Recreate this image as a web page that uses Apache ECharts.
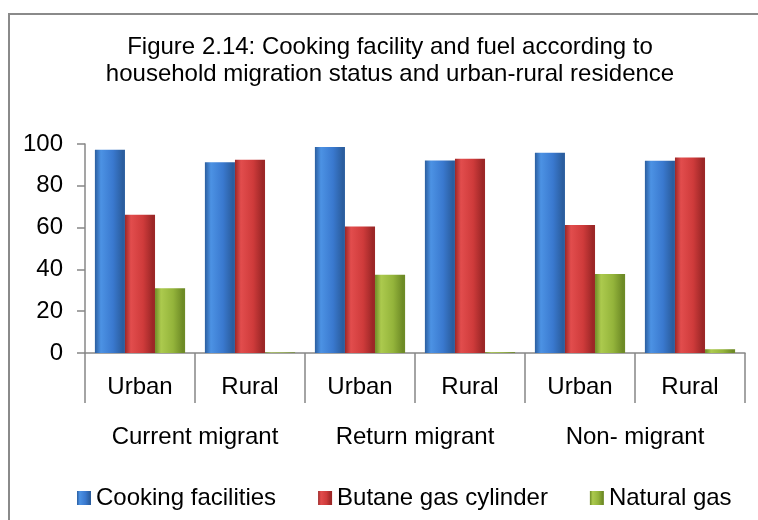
<!DOCTYPE html>
<html>
<head>
<meta charset="utf-8">
<script src="https://cdn.jsdelivr.net/npm/echarts@6/dist/echarts.min.js"></script>
<style>
  html, body { margin: 0; padding: 0; background: #fff; }
  #chart { width: 758px; height: 520px; }
</style>
</head>
<body>
<div id="chart"></div>
<script>
  // values (%)
  let categories = ['Urban', 'Rural', 'Urban', 'Rural', 'Urban', 'Rural'];
  let groups = ['Current migrant', 'Return migrant', 'Non- migrant'];
  let cooking = [97.3, 91.3, 98.6, 92.1, 95.8, 92.0];
  let butane = [66.1, 92.5, 60.5, 92.9, 61.3, 93.6];
  let naturalGas = [31.0, 0.3, 37.4, 0.4, 37.8, 1.8];
  let yTicks = [0, 20, 40, 60, 80, 100];

  let font = "'Liberation Sans', Arial, sans-serif";
  let grey = '#878787';

  function barColor(dark, light, mid) {
    return new echarts.graphic.LinearGradient(0, 0, 1, 0, [
      {offset: 0, color: dark},
      {offset: 0.2, color: light},
      {offset: 0.6, color: mid},
      {offset: 0.92, color: dark},
      {offset: 1, color: dark}
    ]);
  }

  let chart = echarts.init(document.getElementById('chart'));
  let option = {
    animation: false,
    textStyle: {fontFamily: font, color: '#000'},
    graphic: [{
      type: 'rect',
      shape: {x: 9, y: 14, width: 820, height: 600},
      style: {fill: 'none', stroke: '#8a8a8a', lineWidth: 2},
      silent: true
    }],
    title: {
      text: 'Figure 2.14: Cooking facility and fuel according to\nhousehold migration status and urban-rural residence',
      left: 385,
      textAlign: 'center',
      top: 29,
      textStyle: {fontFamily: font, fontSize: 24, fontWeight: 'normal', lineHeight: 27, color: '#000'}
    },
    legend: {
      top: 481,
      left: 72,
      itemGap: 42,
      itemWidth: 14,
      itemHeight: 14,
      icon: 'rect',
      textStyle: {fontFamily: font, fontSize: 24, color: '#000'},
      data: ['Cooking facilities', 'Butane gas cylinder', 'Natural gas']
    },
    grid: {left: 85, right: 13, top: 144, bottom: 167},
    xAxis: [{
      type: 'category',
      data: categories,
      axisLine: {lineStyle: {color: grey, width: 1.5}},
      axisTick: {show: true, interval: 0, length: 50, lineStyle: {color: grey, width: 1.5}},
      axisLabel: {interval: 0, margin: 22, fontSize: 24, color: '#000', fontFamily: font}
    }, {
      type: 'category',
      data: groups,
      position: 'bottom',
      axisLine: {show: false},
      axisTick: {show: false},
      axisLabel: {interval: 0, margin: 72, fontSize: 24, color: '#000', fontFamily: font}
    }],
    yAxis: {
      type: 'value',
      min: yTicks[0],
      max: yTicks[yTicks.length - 1],
      interval: 20,
      splitLine: {show: false},
      axisLine: {show: true, lineStyle: {color: grey, width: 1.5}},
      axisTick: {show: true, length: 8, lineStyle: {color: grey, width: 1.5}},
      axisLabel: {margin: 22, fontSize: 24, color: '#000', fontFamily: font}
    },
    series: [{
      name: 'Cooking facilities',
      type: 'bar',
      data: cooking,
      barGap: '0%',
      barCategoryGap: '18%',
      itemStyle: {color: barColor('#2b5e9f', '#4c92e4', '#3a79cf')}
    }, {
      name: 'Butane gas cylinder',
      type: 'bar',
      data: butane,
      itemStyle: {color: barColor('#9c2727', '#e24d4d', '#cf3b3b')}
    }, {
      name: 'Natural gas',
      type: 'bar',
      data: naturalGas,
      itemStyle: {color: barColor('#6e8b26', '#acca4e', '#94b43b')}
    }]
  };
  chart.setOption(option);
</script>
</body>
</html>
